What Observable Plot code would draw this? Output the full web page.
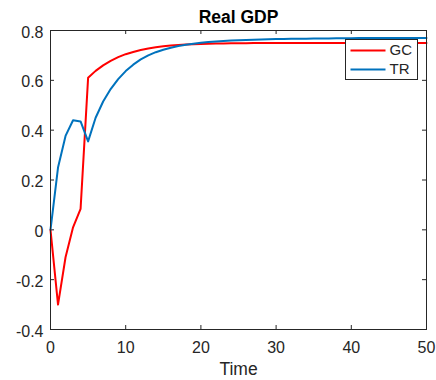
<!DOCTYPE html>
<html>
<head>
<meta charset="utf-8">
<script src="https://cdn.jsdelivr.net/npm/d3@7"></script>
<script src="https://cdn.jsdelivr.net/npm/@observablehq/plot@0.6"></script>
<style>
  html, body { margin: 0; padding: 0; background: #fff; }
  #chart svg { display: block; }
</style>
</head>
<body>
<div id="chart"></div>
<script>
const title = "Real GDP";
const xLabel = "Time";
const seriesNames = ["GC", "TR"];
const seriesColors = ["#FF0000", "#0072BD"];
const xTicks = [0, 10, 20, 30, 40, 50];
const yTicks = [-0.4, -0.2, 0, 0.2, 0.4, 0.6, 0.8];
const time = d3.range(0, 51);
const gc = [0, -0.30, -0.11, 0.01, 0.084, 0.61, 0.638, 0.660, 0.678, 0.693, 0.705, 0.714, 0.722, 0.728, 0.733, 0.737, 0.740, 0.742, 0.744, 0.745, 0.746, 0.747, 0.748, 0.748, 0.749, 0.749, 0.749,
  0.75, 0.75, 0.75, 0.75, 0.75, 0.75, 0.75, 0.75, 0.75, 0.75, 0.75, 0.75, 0.75, 0.75, 0.75, 0.75, 0.75, 0.75, 0.75, 0.75, 0.75, 0.75, 0.75, 0.75];
const tr = [0, 0.25, 0.377, 0.44, 0.435, 0.355, 0.45, 0.515, 0.565, 0.605, 0.637, 0.663, 0.684, 0.700, 0.713, 0.723, 0.731, 0.738, 0.743, 0.747, 0.751, 0.754, 0.756, 0.758, 0.760, 0.761, 0.762, 0.763, 0.764, 0.765, 0.7655, 0.766, 0.7665, 0.767, 0.767, 0.7675, 0.768, 0.768, 0.769, 0.769, 0.769, 0.77, 0.77, 0.77, 0.77, 0.77, 0.77, 0.77, 0.77, 0.77, 0.77];

const rows = [];
[gc, tr].forEach((vals, s) => vals.forEach((v, i) => rows.push({t: time[i], v, s: seriesNames[s]})));

const axisColor = "#262626";
const font = "'Liberation Sans', Arial, Helvetica, sans-serif";
const W = 436, H = 380, mL = 50, mR = 10, mT = 30, mB = 51;
const pw = W - mL - mR, ph = H - mT - mB;

const chart = Plot.plot({
  width: W, height: H,
  marginLeft: mL, marginRight: mR, marginTop: mT, marginBottom: mB,
  style: {fontFamily: font, fontSize: "16px", color: axisColor, background: "#fff"},
  x: {domain: [0, 50]},
  y: {domain: [-0.4, 0.8]},
  color: {domain: seriesNames, range: seriesColors},
  marks: [
    Plot.axisX({ticks: xTicks, tickSize: 0, tickPadding: 12, label: null, fontSize: 16, tickFormat: d3.format("d")}),
    Plot.axisY({ticks: yTicks, tickSize: 0, tickPadding: 7, label: null, fontSize: 16, dy: 2, tickFormat: d => d === 0 ? "0" : d3.format(".1f")(d).replace("−", "-")}),
    Plot.tickX(xTicks, {x: d => d, stroke: axisColor, insetTop: ph - 4}),
    Plot.tickX(xTicks, {x: d => d, stroke: axisColor, insetBottom: ph - 4}),
    Plot.tickY(yTicks, {y: d => d, stroke: axisColor, insetRight: pw - 4}),
    Plot.tickY(yTicks, {y: d => d, stroke: axisColor, insetLeft: pw - 4}),
    Plot.line(rows, {x: "t", y: "v", z: "s", stroke: "s", strokeWidth: 2}),
    Plot.frame({stroke: axisColor, strokeWidth: 1}),
    // legend
    Plot.frame({fill: "#fff", stroke: axisColor, insetLeft: 295, insetRight: 9, insetTop: 9, insetBottom: 250}),
    Plot.frame({fill: seriesColors[0], stroke: null, insetLeft: 300, insetRight: 41, insetTop: 19, insetBottom: ph - 21}),
    Plot.frame({fill: seriesColors[1], stroke: null, insetLeft: 300, insetRight: 41, insetTop: 38, insetBottom: ph - 40}),
    Plot.text([seriesNames[0]], {frameAnchor: "top-left", dx: 339, dy: 20, textAnchor: "start", lineAnchor: "middle", fontSize: 15, fill: axisColor}),
    Plot.text([seriesNames[1]], {frameAnchor: "top-left", dx: 339, dy: 39, textAnchor: "start", lineAnchor: "middle", fontSize: 15, fill: axisColor}),
    // title and x label
    Plot.text([title], {frameAnchor: "top", dy: -13, lineAnchor: "middle", fontSize: 17.5, fontWeight: "bold", fill: "#000"}),
    Plot.text([xLabel], {frameAnchor: "bottom", dy: 40, lineAnchor: "middle", fontSize: 17.5, fill: axisColor})
  ]
});
document.getElementById("chart").appendChild(chart);
</script>
</body>
</html>
